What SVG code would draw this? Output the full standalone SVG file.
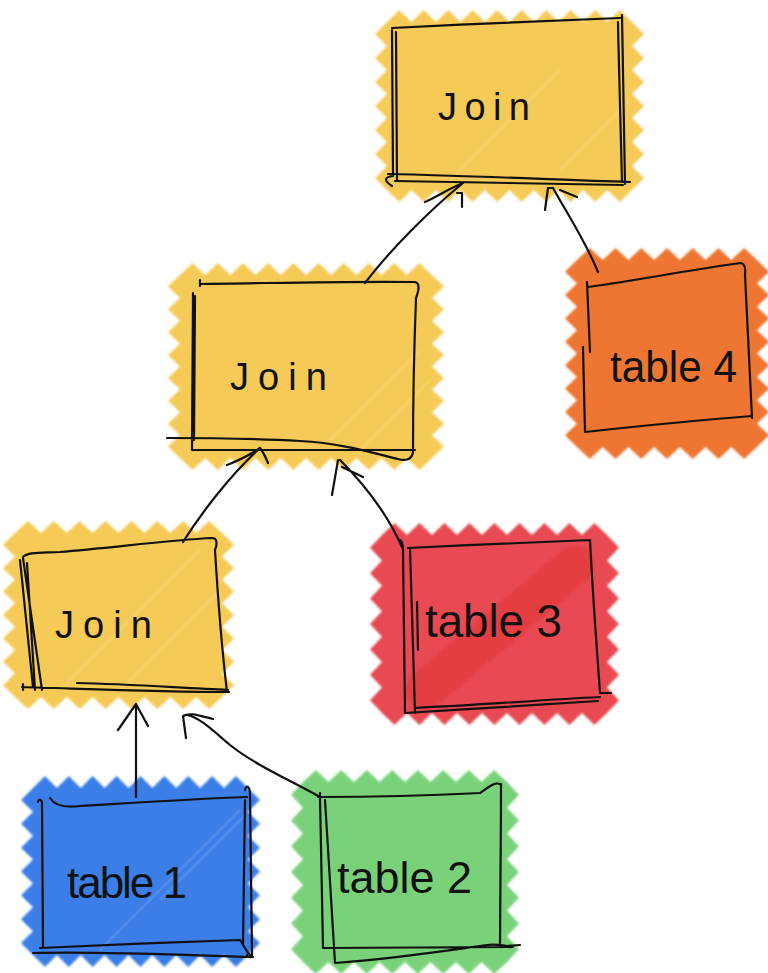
<svg xmlns="http://www.w3.org/2000/svg" width="768" height="973" viewBox="0 0 768 973">
<defs>
<filter id="soft" filterUnits="userSpaceOnUse" x="0" y="0" width="768" height="973"><feGaussianBlur stdDeviation="1.2"/></filter>
</defs>
<style>
.fill{filter:url(#soft);stroke:none}
.y{fill:#F5CA57}
.o{fill:#EE7432}
.r{fill:#E84A53}
.b{fill:#3A7EE8}
.g{fill:#79D27A}
.ink{fill:none;stroke:#111;stroke-width:2.2;stroke-linecap:round;stroke-linejoin:round}
.lbl{font-family:"Liberation Sans","DejaVu Sans",sans-serif;fill:#111;font-weight:normal}
.streak{fill:none;stroke:#fff;stroke-opacity:0.1;stroke-width:3}
</style>
<rect width="768" height="973" fill="#fff"/>

<g id="join-top">
<path class="fill y" d="M387,22 l12.25,-12 12.25,12 12.25,-12 12.25,12 12.25,-12 12.25,12 12.25,-12 12.25,12 12.25,-12 12.25,12 12.25,-12 12.25,12 12.25,-12 12.25,12 12.25,-12 12.25,12 12.25,-12 12.25,12 12.25,-12 12.25,12 l12,12 -12,12 12,12 -12,12 12,12 -12,12 12,12 -12,12 12,12 -12,12 12,12 -12,12 12,12 -12,12 l-12.25,12 -12.25,-12 -12.25,12 -12.25,-12 -12.25,12 -12.25,-12 -12.25,12 -12.25,-12 -12.25,12 -12.25,-12 -12.25,12 -12.25,-12 -12.25,12 -12.25,-12 -12.25,12 -12.25,-12 -12.25,12 -12.25,-12 -12.25,12 -12.25,-12 l-12,-12 12,-12 -12,-12 12,-12 -12,-12 12,-12 -12,-12 12,-12 -12,-12 12,-12 -12,-12 12,-12 -12,-12 12,-12 z"/>
<path class="streak" d="M560,170 L630,100 M450,180 L560,70"/>
<path class="ink" d="M392,28 C470,24 560,20 620,18 M618,22 C619,80 621,140 622,182 M622,15 C623,80 624,140 625,184 M392,30 C392,90 393,140 393,176 M396,32 C396,90 397,140 397,180 M388,174 C480,176 560,180 630,182 M395,181 C480,182 560,184 623,185 M393,176 C385,177 383,180 392,186"/>
<text class="lbl" x="438" y="120" font-size="38" textLength="92" lengthAdjust="spacing">Join</text>
</g>

<g id="join-mid">
<path class="fill y" d="M180,275 l12.6,-12 12.6,12 12.6,-12 12.6,12 12.6,-12 12.6,12 12.6,-12 12.6,12 12.6,-12 12.6,12 12.6,-12 12.6,12 12.6,-12 12.6,12 12.6,-12 12.6,12 12.6,-12 12.6,12 12.6,-12 12.6,12 l12,11.44 -12,11.44 12,11.44 -12,11.44 12,11.44 -12,11.44 12,11.44 -12,11.44 12,11.44 -12,11.44 12,11.44 -12,11.44 12,11.44 -12,11.44 12,11.44 -12,11.44 l-12.6,12 -12.6,-12 -12.6,12 -12.6,-12 -12.6,12 -12.6,-12 -12.6,12 -12.6,-12 -12.6,12 -12.6,-12 -12.6,12 -12.6,-12 -12.6,12 -12.6,-12 -12.6,12 -12.6,-12 -12.6,12 -12.6,-12 -12.6,12 -12.6,-12 l-12,-11.44 12,-11.44 -12,-11.44 12,-11.44 -12,-11.44 12,-11.44 -12,-11.44 12,-11.44 -12,-11.44 12,-11.44 -12,-11.44 12,-11.44 -12,-11.44 12,-11.44 -12,-11.44 12,-11.44 z"/>
<path class="streak" d="M330,440 L420,350 M360,450 L430,380"/>
<path class="ink" d="M200,280 L200,286 M200,284 C280,283 350,281 415,282 C420,283 419,290 416,298 M416,298 C414,350 413,400 413,452 C412,460 405,461 398,459 M398,459 C370,452 340,443 300,441 C250,438 200,438 167,438 M193,450 L415,450 M193,293 L192,450 M195,296 L194,440"/>
<text class="lbl" x="230" y="390" font-size="38" textLength="97" lengthAdjust="spacing">Join</text>
</g>

<g id="table-4">
<path class="fill o" d="M577,260 l12.86,-12 12.86,12 12.86,-12 12.86,12 12.86,-12 12.86,12 12.86,-12 12.86,12 12.86,-12 12.86,12 12.86,-12 12.86,12 12.86,-12 12.86,12 l12,11.69 -12,11.69 12,11.69 -12,11.69 12,11.69 -12,11.69 12,11.69 -12,11.69 12,11.69 -12,11.69 12,11.69 -12,11.69 12,11.69 -12,11.69 12,11.69 -12,11.69 l-12.86,12 -12.86,-12 -12.86,12 -12.86,-12 -12.86,12 -12.86,-12 -12.86,12 -12.86,-12 -12.86,12 -12.86,-12 -12.86,12 -12.86,-12 -12.86,12 -12.86,-12 l-12,-11.69 12,-11.69 -12,-11.69 12,-11.69 -12,-11.69 12,-11.69 -12,-11.69 12,-11.69 -12,-11.69 12,-11.69 -12,-11.69 12,-11.69 -12,-11.69 12,-11.69 -12,-11.69 12,-11.69 z"/>
<path class="ink" d="M588,287 C640,280 700,268 741,263 C745,264 746,268 745,275 M745,275 C748,330 750,380 752,418 M752,416 C700,420 640,426 585,432 M587,282 L590,352 M583,347 L585,432"/>
<text class="lbl" x="610" y="382" font-size="44" textLength="127" lengthAdjust="spacingAndGlyphs">table 4</text>
</g>

<g id="join-left">
<path class="fill y" d="M15,533 l12.94,-12 12.94,12 12.94,-12 12.94,12 12.94,-12 12.94,12 12.94,-12 12.94,12 12.94,-12 12.94,12 12.94,-12 12.94,12 12.94,-12 12.94,12 12.94,-12 12.94,12 l12,11.71 -12,11.71 12,11.71 -12,11.71 12,11.71 -12,11.71 12,11.71 -12,11.71 12,11.71 -12,11.71 12,11.71 -12,11.71 12,11.71 -12,11.71 l-12.94,12 -12.94,-12 -12.94,12 -12.94,-12 -12.94,12 -12.94,-12 -12.94,12 -12.94,-12 -12.94,12 -12.94,-12 -12.94,12 -12.94,-12 -12.94,12 -12.94,-12 -12.94,12 -12.94,-12 l-12,-11.71 12,-11.71 -12,-11.71 12,-11.71 -12,-11.71 12,-11.71 -12,-11.71 12,-11.71 -12,-11.71 12,-11.71 -12,-11.71 12,-11.71 -12,-11.71 12,-11.71 z"/>
<path class="streak" d="M120,690 L220,590 M60,690 L200,550"/>
<path class="ink" d="M23,557 C28,552 40,553 60,552 C110,548 170,540 212,538 C218,538 217,545 215,550 M215,550 C218,600 222,650 227,692 M20,560 L33,687 M23,558 L42,690 M27,563 L35,690 M22,687 C90,689 160,692 229,692 M77,683 C130,684 180,688 228,690 M23,684 L23,690"/>
<text class="lbl" x="55" y="638" font-size="38" textLength="97" lengthAdjust="spacing">Join</text>
</g>

<g id="table-3">
<path class="fill r" d="M382,535 l12.5,-12 12.5,12 12.5,-12 12.5,12 12.5,-12 12.5,12 12.5,-12 12.5,12 12.5,-12 12.5,12 12.5,-12 12.5,12 12.5,-12 12.5,12 12.5,-12 12.5,12 12.5,-12 12.5,12 l12,12.71 -12,12.71 12,12.71 -12,12.71 12,12.71 -12,12.71 12,12.71 -12,12.71 12,12.71 -12,12.71 12,12.71 -12,12.71 12,12.71 -12,12.71 l-12.5,12 -12.5,-12 -12.5,12 -12.5,-12 -12.5,12 -12.5,-12 -12.5,12 -12.5,-12 -12.5,12 -12.5,-12 -12.5,12 -12.5,-12 -12.5,12 -12.5,-12 -12.5,12 -12.5,-12 -12.5,12 -12.5,-12 l-12,-12.71 12,-12.71 -12,-12.71 12,-12.71 -12,-12.71 12,-12.71 -12,-12.71 12,-12.71 -12,-12.71 12,-12.71 -12,-12.71 12,-12.71 -12,-12.71 12,-12.71 z"/>
<path d="M425,690 L575,565" stroke="#E2302F" stroke-opacity="0.5" stroke-width="38" stroke-linecap="round" fill="none" filter="url(#soft)"/>
<path class="ink" d="M400,540 C403,542 403,546 403,550 L405,713 M408,548 C470,545 540,542 590,540 M590,540 C593,600 597,650 600,693 L611,693 M410,548 L415,713 M405,713 C470,709 540,705 598,701 M415,708 C480,705 540,700 600,697 M417,602 L418,650"/>
<text class="lbl" x="425" y="637" font-size="46" textLength="137" lengthAdjust="spacingAndGlyphs">table 3</text>
</g>

<g id="table-1">
<path class="fill b" d="M33,788 l11.94,-12 11.94,12 11.94,-12 11.94,12 11.94,-12 11.94,12 11.94,-12 11.94,12 11.94,-12 11.94,12 11.94,-12 11.94,12 11.94,-12 11.94,12 11.94,-12 11.94,12 11.94,-12 11.94,12 l12,11.93 -12,11.93 12,11.93 -12,11.93 12,11.93 -12,11.93 12,11.93 -12,11.93 12,11.93 -12,11.93 12,11.93 -12,11.93 12,11.93 -12,11.93 l-11.94,12 -11.94,-12 -11.94,12 -11.94,-12 -11.94,12 -11.94,-12 -11.94,12 -11.94,-12 -11.94,12 -11.94,-12 -11.94,12 -11.94,-12 -11.94,12 -11.94,-12 -11.94,12 -11.94,-12 -11.94,12 -11.94,-12 l-12,-11.93 12,-11.93 -12,-11.93 12,-11.93 -12,-11.93 12,-11.93 -12,-11.93 12,-11.93 -12,-11.93 12,-11.93 -12,-11.93 12,-11.93 -12,-11.93 12,-11.93 z"/>
<path class="streak" d="M160,900 L245,815 M100,950 L240,810"/>
<path class="ink" d="M50,798 C55,806 65,808 80,806 C130,803 190,799 247,797 M38,802 C38,800 40,798 42,802 L43,947 M245,790 C246,785 250,785 250,795 L252,955 C252,958 248,958 247,955 M245,800 L243,945 M33,953 C100,951 180,955 253,957 M40,948 C100,945 180,942 240,940 C243,943 245,950 250,955"/>
<text class="lbl" x="67" y="898" font-size="44" textLength="120" lengthAdjust="spacing">table 1</text>
</g>

<g id="table-2">
<path class="fill g" d="M303,782 l12.75,-12 12.75,12 12.75,-12 12.75,12 12.75,-12 12.75,12 12.75,-12 12.75,12 12.75,-12 12.75,12 12.75,-12 12.75,12 12.75,-12 12.75,12 12.75,-12 12.75,12 l12,12.86 -12,12.86 12,12.86 -12,12.86 12,12.86 -12,12.86 12,12.86 -12,12.86 12,12.86 -12,12.86 12,12.86 -12,12.86 12,12.86 -12,12.86 l-12.75,12 -12.75,-12 -12.75,12 -12.75,-12 -12.75,12 -12.75,-12 -12.75,12 -12.75,-12 -12.75,12 -12.75,-12 -12.75,12 -12.75,-12 -12.75,12 -12.75,-12 -12.75,12 -12.75,-12 l-12,-12.86 12,-12.86 -12,-12.86 12,-12.86 -12,-12.86 12,-12.86 -12,-12.86 12,-12.86 -12,-12.86 12,-12.86 -12,-12.86 12,-12.86 -12,-12.86 12,-12.86 z"/>
<path class="ink" d="M320,797 C380,797 440,795 480,793 C490,786 495,782 500,784 M501,784 C501,840 500,900 500,943 M320,797 L323,948 M325,800 L335,963 M323,948 C400,948 460,947 513,947 M335,963 C400,958 450,950 487,945 C495,944 500,945 507,946 L520,945 M320,793 L320,800 M318,797 L330,797"/>
<text class="lbl" x="337" y="893" font-size="44" textLength="135" lengthAdjust="spacingAndGlyphs">table 2</text>
</g>

<g id="connectors" class="ink">
<path d="M136,797 L136,704 M118,730 L136,704 L148,726"/>
<path d="M320,797 C290,780 255,765 230,745 C210,728 200,718 187,715 M186,738 L183,716 C190,712 200,716 213,719"/>
<path d="M183,542 C200,515 230,475 260,448 M227,465 C240,460 250,455 260,448 C263,452 266,458 268,463"/>
<path d="M402,547 C390,520 370,490 340,460 M332,495 L338,460 M342,467 L363,477"/>
<path d="M365,283 C390,250 430,210 463,183 M425,202 C440,195 450,188 463,183 M457,193 L462,193 L462,207"/>
<path d="M598,272 C585,240 565,210 553,188 M545,210 L548,188 L553,188 M560,190 L577,197"/>
</g>
</svg>
